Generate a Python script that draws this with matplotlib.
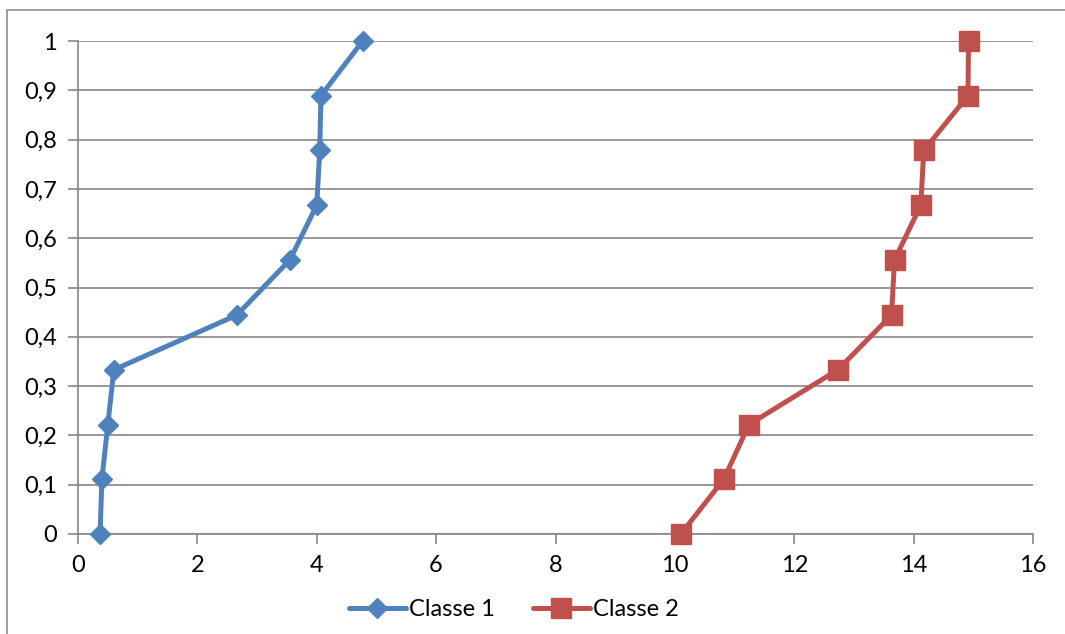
import matplotlib
matplotlib.use("Agg")
import matplotlib.pyplot as plt
from matplotlib.patches import Rectangle
from matplotlib.ticker import FuncFormatter

plt.rcParams['font.family'] = ['Lato', 'DejaVu Sans']

x_classe1 = [0.37, 0.40, 0.50, 0.60, 2.66, 3.55, 4.00, 4.05, 4.07, 4.77]
x_classe2 = [10.10, 10.82, 11.24, 12.73, 13.63, 13.68, 14.12, 14.17, 14.91, 14.92]
y_values = [0, 0.111, 0.222, 0.333, 0.444, 0.556, 0.667, 0.778, 0.889, 1.0]
labels = ["Classe 1", "Classe 2"]
x_ticks = [0, 2, 4, 6, 8, 10, 12, 14, 16]
y_ticks = [0, 0.1, 0.2, 0.3, 0.4, 0.5, 0.6, 0.7, 0.8, 0.9, 1.0]

blue = "#4F81BD"
red = "#C0504D"
grid = "#868686"

fig = plt.figure(figsize=(10.65, 6.34), dpi=100)
fig.patches.append(Rectangle((7/1065, -0.05), 1.1, 1 - 10/634 + 0.05,
                             transform=fig.transFigure, fill=False,
                             edgecolor="#8c8c8c", linewidth=1.2))
ax = fig.add_axes([78/1065, 1 - 534/634, (1033 - 78)/1065, (534 - 41)/634])

ax.plot(x_classe1, y_values, color=blue, lw=3.6, marker="D", markersize=10.5,
        label=labels[0], solid_joinstyle="round", solid_capstyle="round",
        clip_on=False, zorder=3)
ax.plot(x_classe2, y_values, color=red, lw=3.6, marker="s", markersize=14,
        label=labels[1], solid_joinstyle="round", solid_capstyle="round",
        clip_on=False, zorder=3)

ax.set_xlim(0, 16)
ax.set_ylim(0, 1)
ax.set_xticks(x_ticks)
ax.set_yticks(y_ticks)
ax.yaxis.set_major_formatter(FuncFormatter(lambda v, p: ("%g" % round(v, 1)).replace(".", ",")))
ax.grid(axis="y", color=grid, linewidth=1.2)
ax.set_axisbelow(True)
for s in ["top", "right"]:
    ax.spines[s].set_visible(False)
for s in ["left", "bottom"]:
    ax.spines[s].set_color(grid)
    ax.spines[s].set_linewidth(1.2)
ax.tick_params(axis="both", colors=grid, length=7, width=1.2, labelsize=17,
               labelcolor="black")
ax.tick_params(axis="x", pad=8)
ax.tick_params(axis="y", pad=8)

leg = fig.legend(loc="center", bbox_to_anchor=(514/1065, 1 - 610/634), ncol=2,
                 frameon=False, fontsize=17, handlelength=2.4, handletextpad=0.15,
                 columnspacing=1.6)

fig.savefig("out.png", dpi=100)
